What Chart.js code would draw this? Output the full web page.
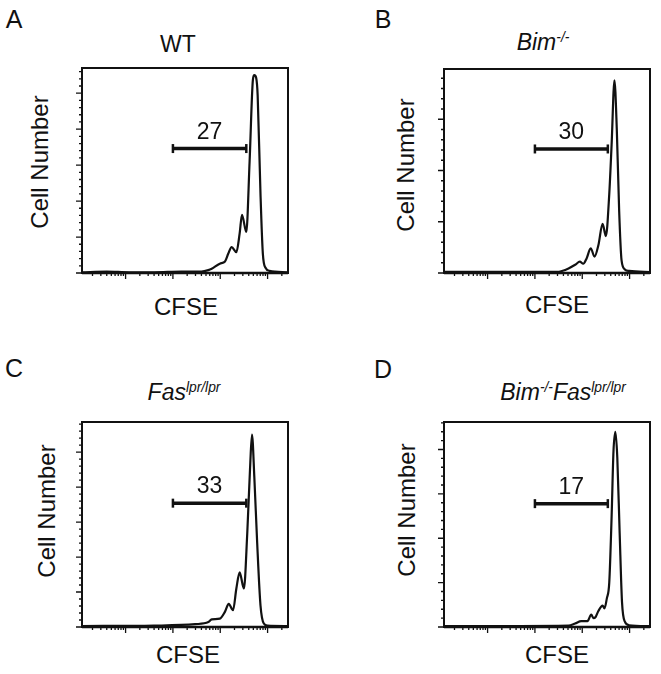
<!DOCTYPE html>
<html>
<head>
<meta charset="utf-8">
<script src="https://cdn.jsdelivr.net/npm/chart.js@4.4.1/dist/chart.umd.min.js"></script>
<style>
  body { margin: 0; background: #fff; }
  #fig { position: relative; width: 661px; height: 674px; font-family: "Liberation Sans", Arial, sans-serif; color: #111; }
  #fig canvas { position: absolute; }
  .txt { position: absolute; white-space: nowrap; text-align: center; }
  .txt sup { font-size: 60%; line-height: 0; vertical-align: 0.55em; }
  .rot { transform: rotate(-90deg); transform-origin: 50% 50%; }
</style>
</head>
<body>
<div id="fig"></div>
<script>
// CFSE intensity (log axis) and event counts
const cfseA  = [1.2, 4, 12, 40, 150, 400, 560, 660, 980, 1260, 1480, 1740, 2190, 2570, 2880, 3550, 4170, 4900, 5250, 5750, 6170, 7080, 7940, 9120, 11000, 26000];
const countA = [1, 2, 1, 1, 2, 2, 4, 6, 13, 16, 27, 36, 29, 55, 81, 57, 155, 269, 275, 271, 247, 110, 27, 7, 3, 1];

const cfseB  = [1.25, 300, 372, 513, 708, 891, 1050, 1230, 1510, 1820, 2190, 2690, 3160, 3720, 4170, 4790, 5370, 6030, 6760, 7940, 9770, 26900];
const countB = [1, 1, 2, 4.5, 8, 11, 9, 14, 24, 16, 27, 48, 36, 77, 125, 188, 140, 60, 12.5, 3.5, 2, 1];

const cfseC  = [1.2, 40, 295, 562, 661, 977, 1260, 1510, 1860, 2190, 2570, 3160, 3720, 4270, 4680, 5250, 6030, 7080, 8320, 10000, 27000];
const countC = [1.4, 2, 4, 7, 11, 12, 22, 33, 24, 55, 78, 55, 134, 228, 275, 214, 120, 31, 5, 2, 1.4];

const cfseD  = [1.25, 513, 708, 955, 1290, 1550, 1720, 1900, 2190, 2690, 2950, 3300, 3720, 4170, 4570, 5010, 5500, 6170, 6920, 7940, 9770, 26900];
const countD = [1, 1.7, 4, 6.7, 6.7, 14, 10, 11, 18, 24, 21, 32, 50, 124, 198, 220, 191, 106, 28, 6, 2, 1];

// gate bars: [start, end] CFSE, height in counts, and % label
const gateX = [[100, 3550], [100, 3470], [100, 3550], [100, 3470]];
const gateY = [173, 121, 177, 139];
const gateLabels = ['27', '30', '33', '17'];
const yMax = [285, 199, 293, 231];

const xMajor = [10, 100, 1000, 10000];
const xMinor = [];
[1, 10, 100, 1000, 10000].forEach(d => { for (let k = 2; k <= 9; k++) xMinor.push(k * d); });

const panels = [
  { id: 'A', cfse: cfseA, count: countA, left: 82, top: 65, w: 209, h: 208 },
  { id: 'B', cfse: cfseB, count: countB, left: 444, top: 66, w: 209, h: 207 },
  { id: 'C', cfse: cfseC, count: countC, left: 82, top: 419, w: 209, h: 208 },
  { id: 'D', cfse: cfseD, count: countD, left: 444, top: 419, w: 209, h: 208 },
];

const frameTicks = {
  id: 'frameTicks',
  afterDatasetsDraw(chart, args, opts) {
    const { ctx, chartArea: a, scales: { x, y } } = chart;
    ctx.save();
    ctx.strokeStyle = '#111';
    ctx.lineWidth = 1.3;
    ctx.beginPath();
    xMajor.forEach(v => {
      const px = x.getPixelForValue(v);
      ctx.moveTo(px, a.bottom); ctx.lineTo(px, a.bottom + 6);
    });
    xMinor.forEach(v => {
      if (v < x.min || v > x.max) return;
      const px = x.getPixelForValue(v);
      ctx.moveTo(px, a.bottom); ctx.lineTo(px, a.bottom + 3);
    });
    for (let v = 0; v <= y.max; v += 10) {
      const py = y.getPixelForValue(v);
      const len = v % 50 === 0 ? 6 : 3;
      ctx.moveTo(a.left, py); ctx.lineTo(a.left - len, py);
    }
    ctx.stroke();
    ctx.lineWidth = 2;
    ctx.strokeRect(a.left, a.top, a.right - a.left, a.bottom - a.top);
    ctx.lineWidth = 2.6;
    ctx.beginPath();
    ctx.moveTo(a.left, a.bottom); ctx.lineTo(a.right, a.bottom);
    ctx.stroke();

    // gate label above the bar
    const pts = chart.getDatasetMeta(1).data;
    const mid = (pts[0].x + pts[1].x) / 2;
    ctx.fillStyle = '#111';
    ctx.font = '23px "Liberation Sans", Arial, sans-serif';
    ctx.textAlign = 'center';
    ctx.textBaseline = 'alphabetic';
    ctx.fillText(opts.label, mid, pts[0].y - 10);
    ctx.restore();
  }
};

const fig = document.getElementById('fig');

panels.forEach((p, i) => {
  const cv = document.createElement('canvas');
  cv.width = p.w + 18; cv.height = p.h + 18;
  cv.style.left = (p.left - 14) + 'px';
  cv.style.top = (p.top - 4) + 'px';
  fig.appendChild(cv);
  new Chart(cv, {
    type: 'line',
    data: {
      datasets: [{
        data: p.cfse.map((c, j) => ({ x: c, y: p.count[j] })),
        borderColor: '#111',
        borderWidth: 2.2,
        pointRadius: 0,
        cubicInterpolationMode: 'monotone',
        fill: false,
      }, {
        data: gateX[i].map(c => ({ x: c, y: gateY[i] })),
        borderColor: '#111',
        borderWidth: 3.5,
        pointStyle: 'line',
        pointRotation: 90,
        pointRadius: 4.5,
        pointBorderWidth: 2.5,
        pointBorderColor: '#111',
        clip: false,
      }],
    },
    options: {
      responsive: false,
      animation: false,
      events: [],
      layout: { padding: { left: 14, top: 4, right: 4, bottom: 14 } },
      scales: {
        x: { type: 'logarithmic', min: 1.2, max: 27000, display: false },
        y: { type: 'linear', min: 0, max: yMax[i], display: false },
      },
      plugins: {
        legend: { display: false },
        tooltip: { enabled: false },
        frameTicks: { label: gateLabels[i] },
      },
    },
    plugins: [frameTicks],
  });
});

// text: panel letters, genotype titles, axis titles
function addText(html, cx, baseline, size) {
  const d = document.createElement('div');
  d.className = 'txt';
  d.innerHTML = html;
  d.style.fontSize = size + 'px';
  d.style.lineHeight = size + 'px';
  d.style.width = '240px';
  d.style.left = (cx - 120) + 'px';
  d.style.top = (baseline - 0.8465 * size) + 'px';
  fig.appendChild(d);
}
function addRot(text, cx, cy, size) {
  const d = document.createElement('div');
  d.className = 'txt rot';
  d.textContent = text;
  d.style.fontSize = size + 'px';
  d.style.lineHeight = size + 'px';
  d.style.width = '200px';
  d.style.height = size + 'px';
  d.style.left = (cx - 100) + 'px';
  d.style.top = (cy - size / 2) + 'px';
  fig.appendChild(d);
}

addText('A', 14, 28, 25);
addText('B', 383, 28, 25);
addText('C', 14, 377, 25);
addText('D', 383, 378, 25);

addText('WT', 178, 52, 23);
addText('<i>Bim<sup>-/-</sup></i>', 543, 50, 23);
addText('<i>Fas<sup>lpr/lpr</sup></i>', 184, 400, 23);
addText('<i>Bim<sup>-/-</sup>Fas<sup>lpr/lpr</sup></i>', 563, 400, 23);

addRot('Cell Number', 40, 162, 24);
addRot('Cell Number', 406, 165, 24);
addRot('Cell Number', 47, 511, 24);
addRot('Cell Number', 407, 510, 24);

addText('CFSE', 186, 315, 24);
addText('CFSE', 557, 313, 24);
addText('CFSE', 188, 663, 24);
addText('CFSE', 557, 663, 24);
</script>
</body>
</html>
